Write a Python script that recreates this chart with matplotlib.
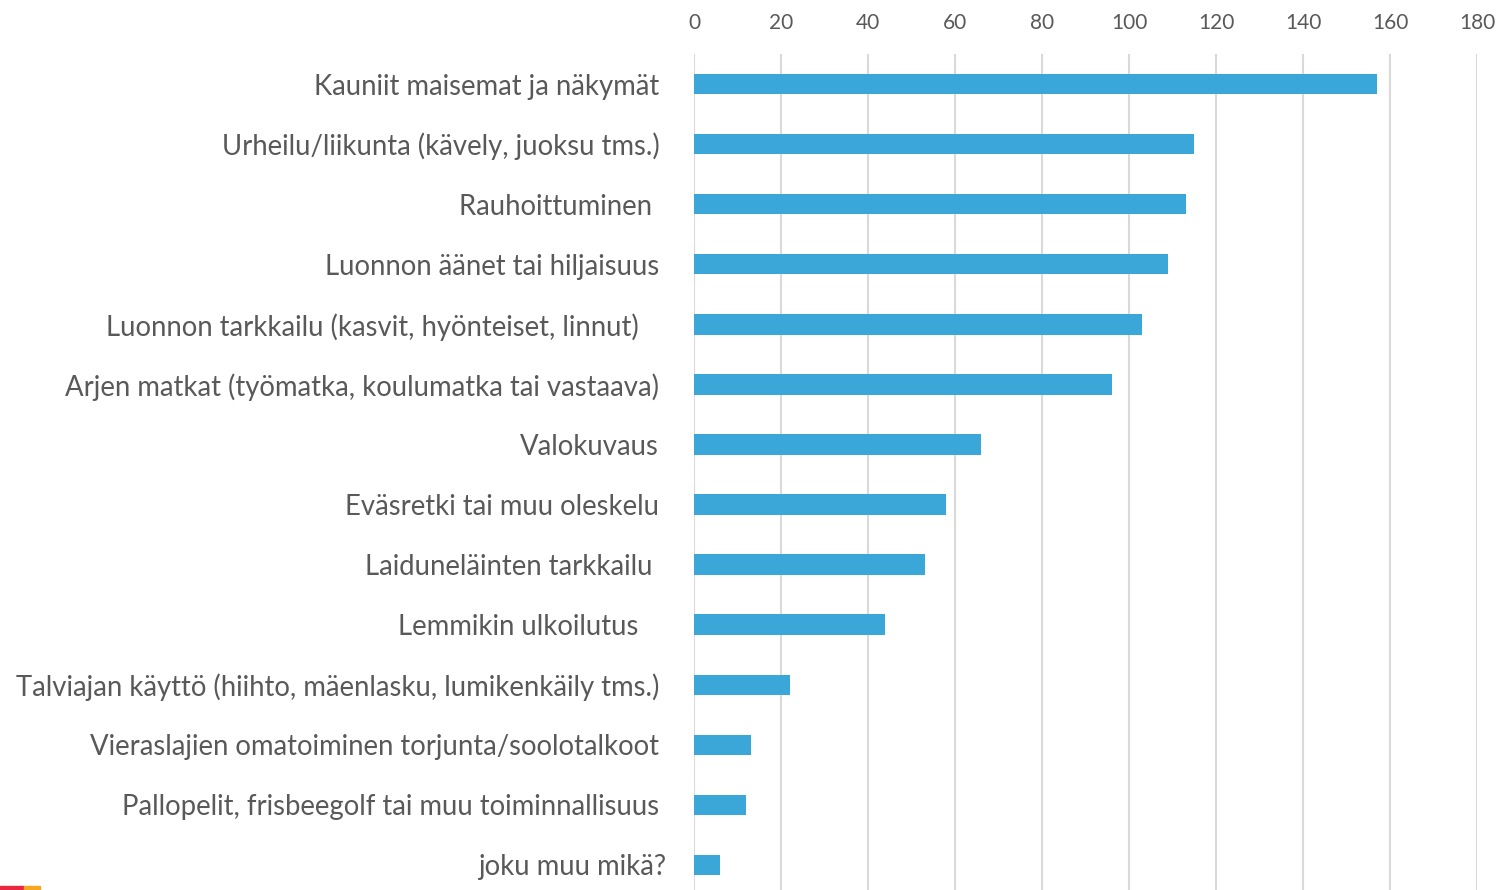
import matplotlib
matplotlib.use("Agg")
import matplotlib.pyplot as plt
import matplotlib.transforms as mtransforms
from matplotlib.patches import Rectangle

categories = [
    "Kauniit maisemat ja näkymät",
    "Urheilu/liikunta (kävely, juoksu tms.)",
    "Rauhoittuminen ",
    "Luonnon äänet tai hiljaisuus",
    "Luonnon tarkkailu (kasvit, hyönteiset, linnut)   ",
    "Arjen matkat (työmatka, koulumatka tai vastaava)",
    "Valokuvaus",
    "Eväsretki tai muu oleskelu",
    "Laiduneläinten tarkkailu ",
    "Lemmikin ulkoilutus   ",
    "Talviajan käyttö (hiihto, mäenlasku, lumikenkäily tms.)",
    "Vieraslajien omatoiminen torjunta/soolotalkoot",
    "Pallopelit, frisbeegolf tai muu toiminnallisuus",
    "joku muu mikä?",
]
values = [157, 115, 113, 109, 103, 96, 66, 58, 53, 44, 22, 13, 12, 6]
xticks = [0, 20, 40, 60, 80, 100, 120, 140, 160, 180]

W, H = 1496, 890
fig = plt.figure(figsize=(W / 100, H / 100), dpi=100)
ax = fig.add_axes([694 / W, 1 - 895 / H, (1477 - 694) / W, (895 - 54) / H])

ypos = list(range(len(categories)))
ax.barh(ypos, values, height=0.34, color="#3BA6D8", zorder=3)
ax.set_ylim(len(categories) - 0.5, -0.5)
ax.set_xlim(0, 180)
ax.set_xticks(xticks)
ax.set_xticklabels([str(t) for t in xticks])
ax.xaxis.tick_top()
ax.set_yticks(ypos)
ax.set_yticklabels(categories)

textcolor = "#595959"
for lab in ax.get_yticklabels():
    lab.set_fontfamily("Lato")
    lab.set_fontsize(19.8)
    lab.set_color(textcolor)
for lab in ax.get_xticklabels():
    lab.set_fontfamily("Lato")
    lab.set_fontsize(15)
    lab.set_color(textcolor)

ax.tick_params(axis="y", length=0, pad=25)
ax.tick_params(axis="x", length=0, pad=15)
ax.grid(axis="x", color="#D9D9D9", linewidth=1.5, zorder=0)
for s in ax.spines.values():
    s.set_visible(False)

# last label sits slightly further right in the reference
last = ax.get_yticklabels()[-1]
last.set_transform(last.get_transform() + mtransforms.ScaledTranslation(7 / 100, 0, fig.dpi_scale_trans))

# small logo fragment in bottom-left corner
fig.patches.append(Rectangle((0, 0), 24 / W, 4 / H, transform=fig.transFigure, color="#E8283C", figure=fig))
fig.patches.append(Rectangle((24 / W, 0), 16 / W, 4 / H, transform=fig.transFigure, color="#F6A623", figure=fig))

fig.savefig("out.png", dpi=100)
